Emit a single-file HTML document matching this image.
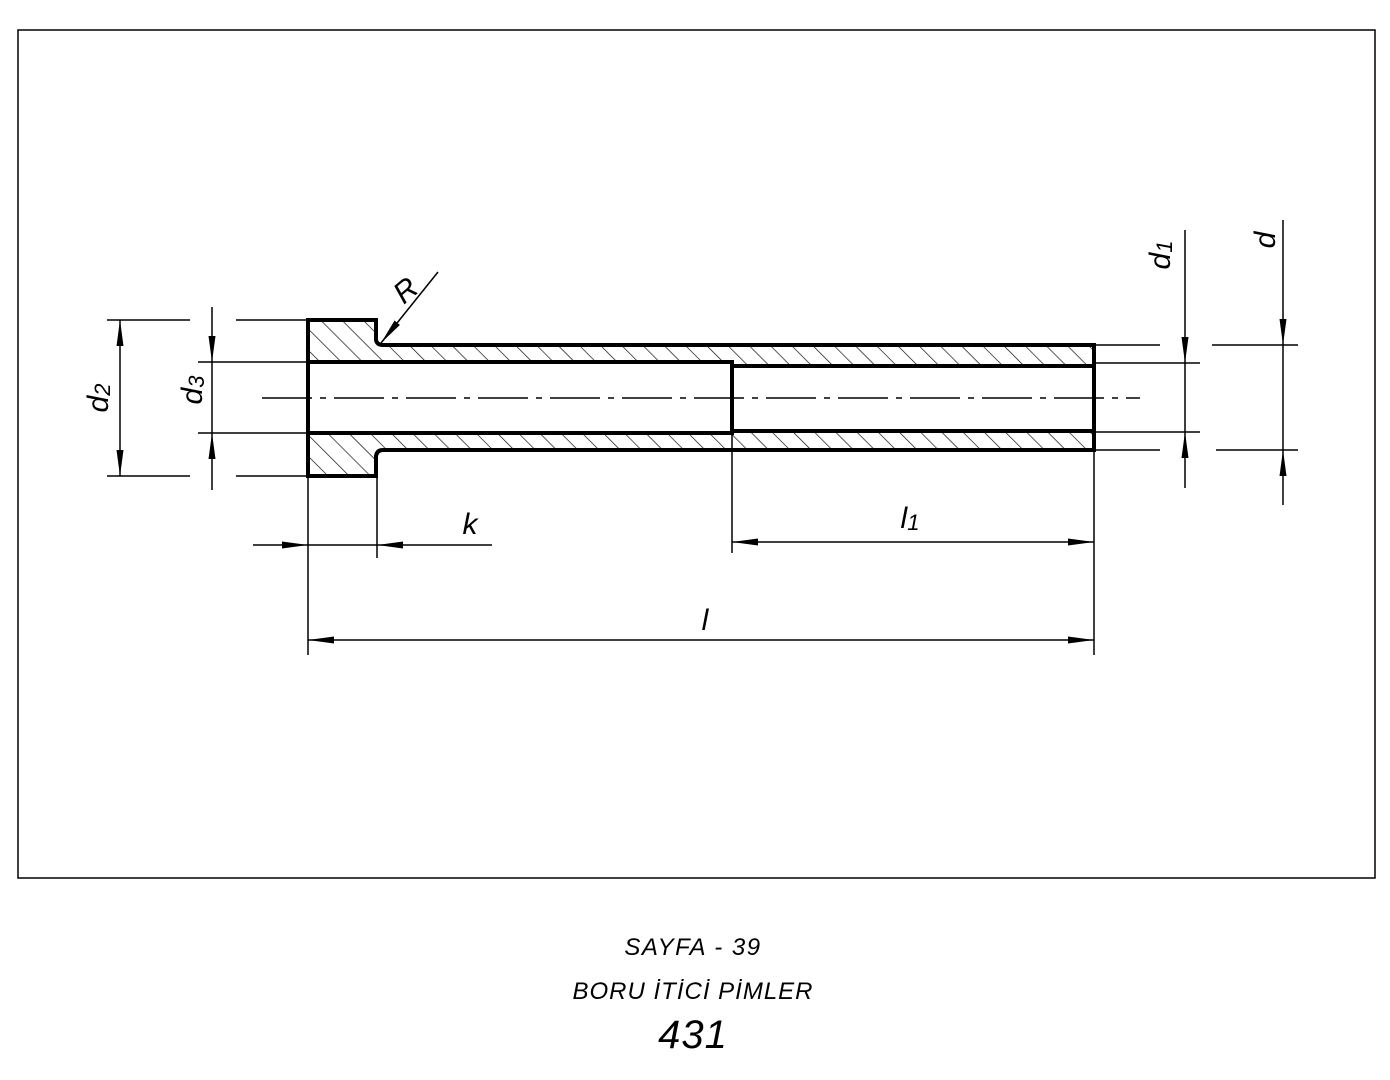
<!DOCTYPE html>
<html><head><meta charset="utf-8"><style>
html,body{margin:0;padding:0;background:#fff;}
svg{display:block;}
text{font-family:"Liberation Sans","DejaVu Sans",sans-serif;font-style:italic;fill:#000;}
</style></head><body>
<svg width="1390" height="1080" viewBox="0 0 1390 1080" xmlns="http://www.w3.org/2000/svg">
<defs>
<pattern id="h" width="15" height="15" patternUnits="userSpaceOnUse" patternTransform="rotate(-45)">
<line x1="0" y1="0" x2="0" y2="15" stroke="#000" stroke-width="1.3"/>
</pattern>
<marker id="a" markerWidth="26" markerHeight="10" refX="26" refY="5" orient="auto" markerUnits="userSpaceOnUse">
<path d="M0,1.5 L26,5 L0,8.5 Z" fill="#000"/>
</marker>
<marker id="s" markerWidth="26" markerHeight="10" refX="0" refY="5" orient="auto" markerUnits="userSpaceOnUse">
<path d="M26,1.5 L0,5 L26,8.5 Z" fill="#000"/>
</marker>
</defs>
<rect x="18" y="30" width="1357" height="848" fill="none" stroke="#000" stroke-width="1.5"/>

<path d="M308,320 H376 V340 Q377,345 383,345 H1094 V366 H732 V362 H308 Z" fill="url(#h)" stroke="#000" stroke-width="4"/>
<path d="M308,433 H732 V431 H1094 V450 H383 Q377,450 376,456 V476 H308 Z" fill="url(#h)" stroke="#000" stroke-width="4"/>
<line x1="732" y1="362" x2="732" y2="433" stroke="#000" stroke-width="4"/>
<line x1="308" y1="362" x2="308" y2="433" stroke="#000" stroke-width="4"/>
<line x1="1094" y1="366" x2="1094" y2="431" stroke="#000" stroke-width="4"/>

<line x1="262" y1="398" x2="1140" y2="398" stroke="#000" stroke-width="1.5" stroke-dasharray="50,8,6,8"/>

<g stroke="#000" stroke-width="1.5" fill="none">
<line x1="107" y1="320" x2="190" y2="320"/>
<line x1="107" y1="476" x2="190" y2="476"/>
<line x1="236" y1="320" x2="308" y2="320"/>
<line x1="236" y1="476" x2="308" y2="476"/>
<line x1="120" y1="476" x2="120" y2="320" marker-end="url(#a)" marker-start="url(#s)"/>
<line x1="198" y1="362" x2="308" y2="362"/>
<line x1="198" y1="433" x2="308" y2="433"/>
<line x1="212" y1="307" x2="212" y2="362" marker-end="url(#a)"/>
<line x1="212" y1="490" x2="212" y2="433" marker-end="url(#a)"/>
<line x1="212" y1="362" x2="212" y2="433"/>
<line x1="1094" y1="363" x2="1200" y2="363"/>
<line x1="1094" y1="432" x2="1200" y2="432"/>
<line x1="1185" y1="230" x2="1185" y2="363" marker-end="url(#a)"/>
<line x1="1185" y1="488" x2="1185" y2="432" marker-end="url(#a)"/>
<line x1="1185" y1="363" x2="1185" y2="432"/>
<line x1="1094" y1="345" x2="1160" y2="345"/>
<line x1="1094" y1="450" x2="1160" y2="450"/>
<line x1="1212" y1="345" x2="1298" y2="345"/>
<line x1="1216" y1="450" x2="1298" y2="450"/>
<line x1="1283" y1="220" x2="1283" y2="345" marker-end="url(#a)"/>
<line x1="1283" y1="505" x2="1283" y2="450" marker-end="url(#a)"/>
<line x1="1283" y1="345" x2="1283" y2="450"/>
<line x1="308" y1="476" x2="308" y2="655"/>
<line x1="377" y1="476" x2="377" y2="558"/>
<line x1="253" y1="545" x2="308" y2="545" marker-end="url(#a)"/>
<line x1="492" y1="545" x2="377" y2="545" marker-end="url(#a)"/>
<line x1="308" y1="545" x2="377" y2="545"/>
<line x1="732" y1="433" x2="732" y2="553"/>
<line x1="1094" y1="450" x2="1094" y2="655"/>
<line x1="732" y1="542" x2="1094" y2="542" marker-end="url(#a)" marker-start="url(#s)"/>
<line x1="308" y1="640" x2="1094" y2="640" marker-end="url(#a)" marker-start="url(#s)"/>
<line x1="438" y1="272" x2="381" y2="343" marker-end="url(#a)"/>
</g>

<text x="0" y="0" font-size="30" transform="translate(108,398) rotate(-90)" text-anchor="middle">d<tspan font-size="22" dy="2">2</tspan></text>
<text x="0" y="0" font-size="30" transform="translate(202,390) rotate(-90)" text-anchor="middle">d<tspan font-size="22" dy="2">3</tspan></text>
<text x="0" y="0" font-size="30" transform="translate(1170,255) rotate(-90)" text-anchor="middle">d<tspan font-size="22" dy="2">1</tspan></text>
<text x="0" y="0" font-size="30" transform="translate(1275,240) rotate(-90)" text-anchor="middle">d</text>
<text x="0" y="0" font-size="30" transform="translate(412,298) rotate(-40)" text-anchor="middle">R</text>
<text x="470" y="534" font-size="30" text-anchor="middle">k</text>
<text x="910" y="528" font-size="30" text-anchor="middle">l<tspan font-size="22" dy="2">1</tspan></text>
<text x="705" y="630" font-size="30" text-anchor="middle">l</text>

<text x="693" y="955" font-size="24" text-anchor="middle" letter-spacing="1.5">SAYFA - 39</text>
<text x="693" y="999" font-size="24" text-anchor="middle" letter-spacing="1">BORU İTİCİ PİMLER</text>
<text x="693" y="1048" font-size="40" text-anchor="middle" letter-spacing="1">431</text>
</svg>
</body></html>
